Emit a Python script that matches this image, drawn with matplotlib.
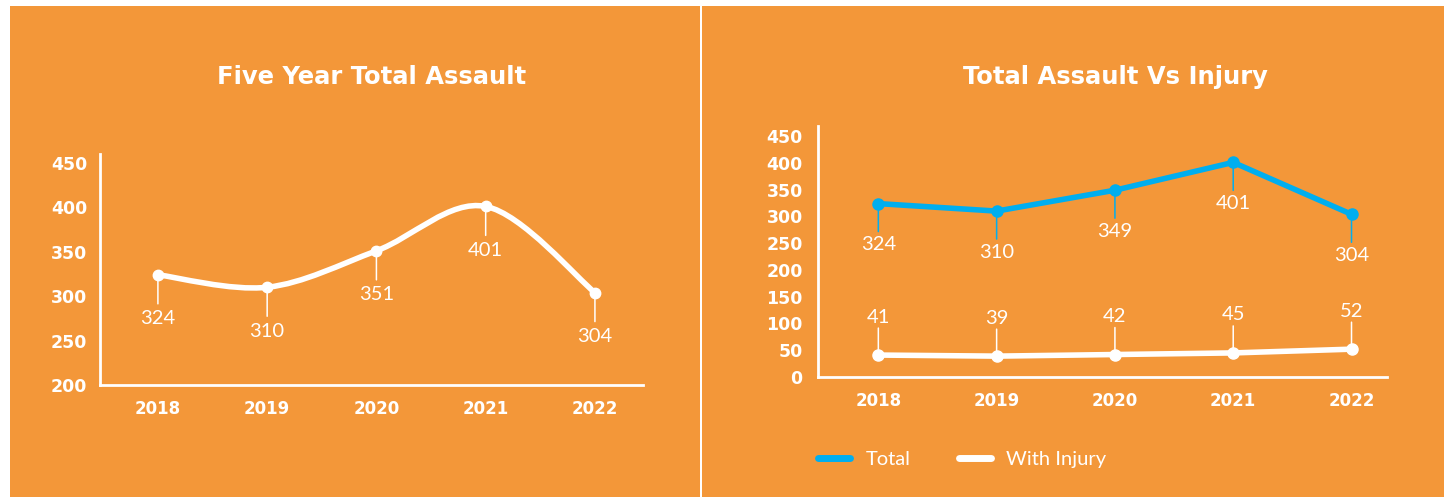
import matplotlib
matplotlib.use("Agg")
import matplotlib.pyplot as plt
from matplotlib.path import Path
from matplotlib.patches import PathPatch, Rectangle
from matplotlib.lines import Line2D
import numpy as np

# ---------------- data ----------------
years = [2018, 2019, 2020, 2021, 2022]
five_year_total = [324, 310, 351, 401, 304]
total_assault = [324, 310, 349, 401, 304]
with_injury = [41, 39, 42, 45, 52]
left_yticks = [200, 250, 300, 350, 400, 450]
right_yticks = [0, 50, 100, 150, 200, 250, 300, 350, 400, 450]
left_title = "Five Year Total Assault"
right_title = "Total Assault Vs Injury"
legend_labels = ["Total", "With Injury"]

# ---------------- style ----------------
ORANGE = "#F39739"
BLUE = "#00AEEF"
WHITE = "#FFFFFF"
W, H = 1444, 497
BOLD = ["DejaVu Sans"]
LIGHT = ["Lato", "DejaVu Sans"]
LIGHT_W = "normal"

fig = plt.figure(figsize=(W / 100, H / 100), dpi=100, facecolor="white")

def fx(px):
    return px / W

def fy(py):
    return 1 - py / H

# orange panels
fig.patches.append(Rectangle((fx(10), 0), fx(700) - fx(10), fy(6), transform=fig.transFigure,
                             facecolor=ORANGE, edgecolor="none", zorder=-10))
fig.patches.append(Rectangle((fx(702), 0), 1 - fx(702), fy(6), transform=fig.transFigure,
                             facecolor=ORANGE, edgecolor="none", zorder=-10))

fig.text(fx(372), fy(77), left_title, ha="center", va="center", color=WHITE,
         fontsize=17.5, fontweight="bold", family=BOLD)
fig.text(fx(1115), fy(77), right_title, ha="center", va="center", color=WHITE,
         fontsize=17.5, fontweight="bold", family=BOLD)


def style_axes(ax, ypad, xpad):
    ax.set_facecolor("none")
    for s in ["top", "right"]:
        ax.spines[s].set_visible(False)
    for s in ["left", "bottom"]:
        ax.spines[s].set_color(WHITE)
        ax.spines[s].set_linewidth(2)
    ax.tick_params(axis="both", length=0, colors=WHITE)
    ax.tick_params(axis="y", pad=ypad)
    ax.tick_params(axis="x", pad=xpad)
    for lab in ax.get_yticklabels():
        lab.set_fontsize(12.5)
        lab.set_fontweight("bold")
        lab.set_family(BOLD)
    for lab in ax.get_xticklabels():
        lab.set_fontsize(12)
        lab.set_fontweight("bold")
        lab.set_family(BOLD)


def stem_label(ax, x, y, text, color, stem_len, label_off):
    ax.annotate("", xy=(x, y), xycoords="data", xytext=(0, stem_len), textcoords="offset pixels",
                arrowprops=dict(arrowstyle="-", color=color, lw=1.1, shrinkA=0, shrinkB=0), zorder=2)
    ax.annotate(text, xy=(x, y), xycoords="data", xytext=(0, label_off), textcoords="offset pixels",
                ha="center", va="center", color=WHITE, fontsize=14.5, fontweight=LIGHT_W,
                family=LIGHT, zorder=4)


# ---------------- left chart ----------------
axL = fig.add_axes([fx(100), fy(385), fx(643) - fx(100), fy(154) - fy(385)])
axL.set_xlim(2017.47, 2022.44)
axL.set_ylim(200, 460)
axL.set_xticks(years)
axL.set_xticklabels([str(y) for y in years])
axL.set_yticks(left_yticks)
axL.set_yticklabels([str(v) for v in left_yticks])
style_axes(axL, ypad=9, xpad=11)

# smooth curve (Catmull-Rom converted to cubic Bezier segments)
pts = np.column_stack([years, five_year_total]).astype(float)
verts = [tuple(pts[0])]
codes = [Path.MOVETO]
n = len(pts)
for i in range(n - 1):
    p0 = pts[max(i - 1, 0)]
    p1 = pts[i]
    p2 = pts[i + 1]
    p3 = pts[min(i + 2, n - 1)]
    c1 = p1 + (p2 - p0) / 6.0
    c2 = p2 - (p3 - p1) / 6.0
    verts += [tuple(c1), tuple(c2), tuple(p2)]
    codes += [Path.CURVE4] * 3
axL.add_patch(PathPatch(Path(verts, codes), facecolor="none", edgecolor=WHITE, lw=4,
                        capstyle="round", joinstyle="round", zorder=3))
axL.plot(years, five_year_total, "o", color=WHITE, ms=7.5, zorder=4)
for x, v in zip(years, five_year_total):
    stem_label(axL, x, v, str(v), WHITE, -29, -44)

# ---------------- right chart ----------------
axR = fig.add_axes([fx(818), fy(377), fx(1387) - fx(818), fy(126) - fy(377)])
axR.set_xlim(2017.49, 2022.30)
axR.set_ylim(0, 469)
axR.set_xticks(years)
axR.set_xticklabels([str(y) for y in years])
axR.set_yticks(right_yticks)
axR.set_yticklabels([str(v) for v in right_yticks])
style_axes(axR, ypad=11, xpad=11)

axR.plot(years, total_assault, "-o", color=BLUE, lw=4, ms=8, zorder=3,
         solid_capstyle="round", solid_joinstyle="round")
axR.plot(years, with_injury, "-o", color=WHITE, lw=4, ms=8, zorder=3,
         solid_capstyle="round", solid_joinstyle="round")
for x, v in zip(years, total_assault):
    stem_label(axR, x, v, str(v), BLUE, -28, -41)
for x, v in zip(years, with_injury):
    stem_label(axR, x, v, str(v), WHITE, 27, 38)

handles = [Line2D([], [], color=BLUE, lw=5, solid_capstyle="round"),
           Line2D([], [], color=WHITE, lw=5, solid_capstyle="round")]
leg = fig.legend(handles, legend_labels, loc="center left",
                 bbox_to_anchor=(fx(818), fy(459)), bbox_transform=fig.transFigure,
                 ncol=2, frameon=False, fontsize=14.5, handlelength=1.6,
                 handletextpad=0.75, columnspacing=2.4, borderpad=0, borderaxespad=0)
for t in leg.get_texts():
    t.set_color(WHITE)
    t.set_family(LIGHT)
    t.set_fontweight(LIGHT_W)

fig.savefig("out.png", dpi=100, facecolor="white")
